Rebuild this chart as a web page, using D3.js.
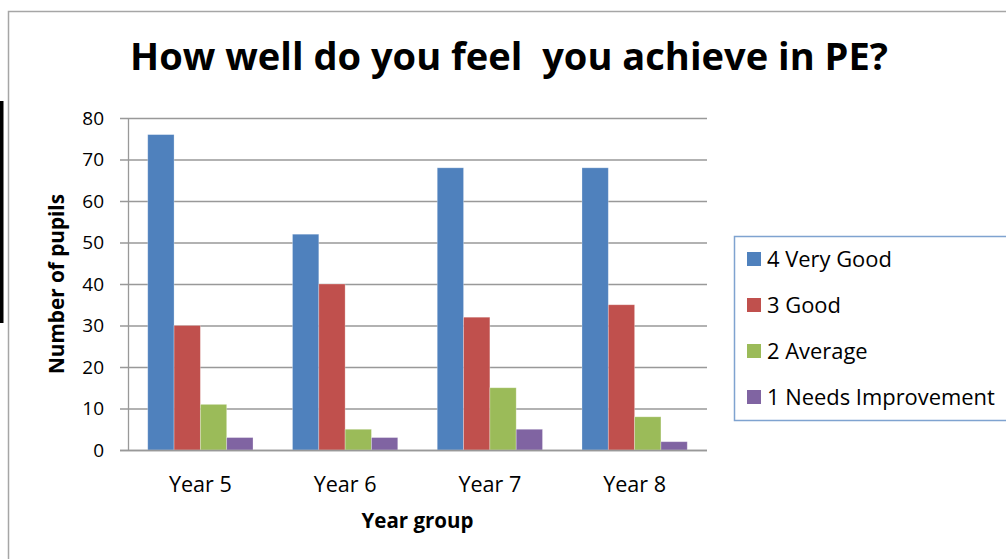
<!DOCTYPE html>
<html><head><meta charset="utf-8">
<script src="https://cdn.jsdelivr.net/npm/d3@7"></script>
<style>html,body{margin:0;padding:0;background:#fff;overflow:hidden}</style>
</head><body>
<svg id="c" width="1006" height="559"></svg>
<script>
const categories = ["Year 5", "Year 6", "Year 7", "Year 8"];
const seriesNames = ["4 Very Good", "3 Good", "2 Average", "1 Needs Improvement"];
const veryGood = [76, 52, 68, 68];
const good = [30, 40, 32, 35];
const average = [11, 5, 15, 8];
const needsImprovement = [3, 3, 5, 2];
const yTicks = [0, 10, 20, 30, 40, 50, 60, 70, 80];
const colors = ["#4F81BD", "#C0504D", "#9BBB59", "#8064A2"];
const title = "How well do you feel  you achieve in PE?";

const seriesValues = [veryGood, good, average, needsImprovement];
const font = "'Open Sans', 'Noto Sans', sans-serif";
const svg = d3.select("#c");

function fit(sel, w) {
  const n = sel.node();
  const cur = parseFloat(sel.attr("font-size"));
  const len = n.getComputedTextLength();
  if (len > 0) sel.attr("font-size", cur * w / len);
  return sel;
}

// left artifact
svg.append("rect").attr("x", 0).attr("y", 101).attr("width", 3.5).attr("height", 222).attr("fill", "#000");

// chart border
svg.append("path").attr("d", "M8.5,1010 V11.5 H1010").attr("fill", "none").attr("stroke", "#a6a6a6").attr("stroke-width", 1.5);

const L = 128, R = 707, T = 118, B = 450;
const x0 = d3.scaleBand().domain(categories).range([L, R]).paddingInner(1.5/5.5).paddingOuter(0.75/5.5);
const x1 = d3.scaleBand().domain(d3.range(4)).range([0, x0.bandwidth()]);
const y = d3.scaleLinear().domain([0, 80]).range([B, T]);

// gridlines
svg.append("g").selectAll("line").data(yTicks).join("line")
  .attr("x1", L - 8).attr("x2", R).attr("y1", d => y(d) + 0.5).attr("y2", d => y(d) + 0.5)
  .attr("stroke", "#999").attr("stroke-width", 1.3);

// y axis labels
svg.append("g").selectAll("text").data(yTicks).join("text")
  .attr("x", 104).attr("y", d => y(d)).attr("dy", "0.36em")
  .attr("text-anchor", "end").attr("font-family", font).attr("font-size", 19).attr("fill", "#000")
  .text(d => d);

// bars
const groups = svg.append("g").selectAll("g").data(categories).join("g")
  .attr("transform", c => `translate(${x0(c)},0)`);
groups.selectAll("rect").data((c, i) => seriesValues.map((s, k) => ({k, v: s[i]}))).join("rect")
  .attr("x", d => x1(d.k)).attr("width", x1.bandwidth())
  .attr("y", d => y(d.v)).attr("height", d => B - y(d.v))
  .attr("fill", d => colors[d.k]).attr("stroke", "rgba(255,255,255,0.35)").attr("stroke-width", 0.8);

// y axis line
svg.append("line").attr("x1", L + 0.5).attr("x2", L + 0.5).attr("y1", T).attr("y2", B)
  .attr("stroke", "#999").attr("stroke-width", 1.3);
// baseline
svg.append("line").attr("x1", L - 8).attr("x2", R).attr("y1", B + 0.5).attr("y2", B + 0.5)
  .attr("stroke", "#999").attr("stroke-width", 1.5);

// x labels
svg.append("g").selectAll("text").data(categories).join("text")
  .attr("x", c => x0(c) + x0.bandwidth() / 2).attr("y", 492)
  .attr("text-anchor", "middle").attr("font-family", font).attr("font-size", 20).attr("fill", "#000")
  .text(c => c).each(function() { fit(d3.select(this), 63); });

// title
fit(svg.append("text").attr("x", 509).attr("y", 70).attr("text-anchor", "middle")
  .attr("font-family", font).attr("font-weight", "bold").attr("font-size", 34)
  .style("white-space", "pre").attr("xml:space", "preserve").text(title), 758);

// axis titles
fit(svg.append("text").attr("transform", `translate(64,${(T + B) / 2}) rotate(-90)`)
  .attr("text-anchor", "middle").attr("font-family", font).attr("font-weight", "bold").attr("font-size", 18)
  .text("Number of pupils"), 180);
fit(svg.append("text").attr("x", (L + R) / 2).attr("y", 528).attr("text-anchor", "middle")
  .attr("font-family", font).attr("font-weight", "bold").attr("font-size", 18)
  .text("Year group"), 112);

// legend
svg.append("rect").attr("x", 734.5).attr("y", 236.5).attr("width", 300).attr("height", 184)
  .attr("fill", "#fff").attr("stroke", "#7fa3d0").attr("stroke-width", 1.5);
const lg = svg.append("g").selectAll("g").data(seriesNames).join("g")
  .attr("transform", (d, i) => `translate(747,${259 + i * 46})`);
lg.append("rect").attr("x", 0).attr("y", -7).attr("width", 14).attr("height", 14).attr("fill", (d, i) => colors[i]);
const lt = lg.append("text").attr("x", 20).attr("y", 0).attr("dy", "0.36em")
  .attr("font-family", font).attr("font-size", 20).attr("fill", "#000").text(d => d);
const lastNode = lt.filter((d, i) => i === 3);
const len = lastNode.node().getComputedTextLength();
lt.attr("font-size", 20 * 228 / len);
</script>
</body></html>
